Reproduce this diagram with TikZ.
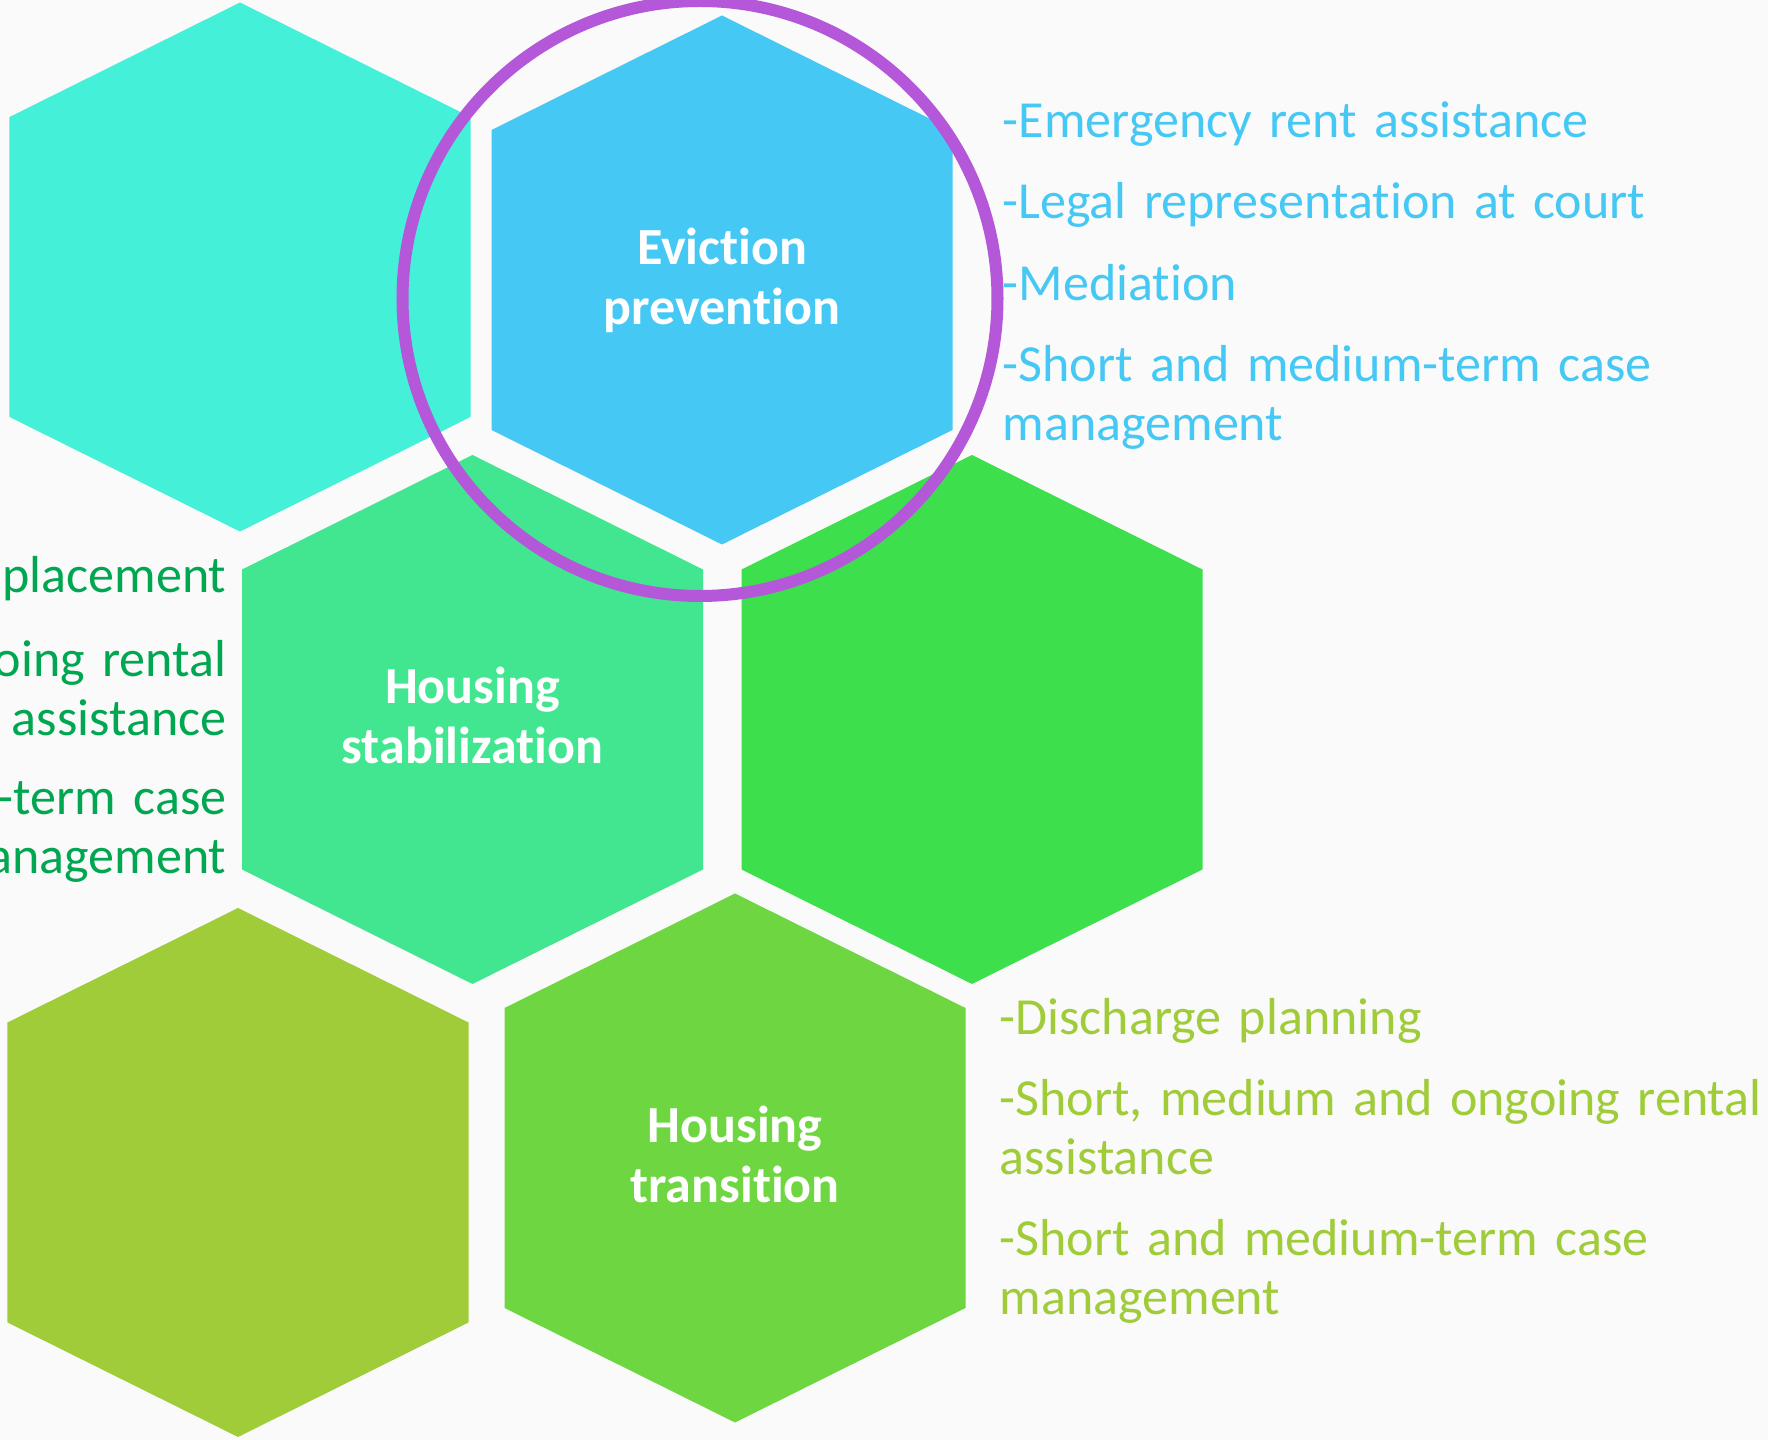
\documentclass[tikz,border=0pt]{standalone}
\usepackage{fontspec}
\setmainfont{Carlito}[Ligatures={NoCommon,NoDiscretionary,NoContextual}]
\usepackage{tikz}
\usetikzlibrary{calc}
\definecolor{bgcol}{HTML}{FAFAFA}
\definecolor{hexteal}{HTML}{44F0D8}
\definecolor{hexblue}{HTML}{46C8F5}
\definecolor{hexmint}{HTML}{42E690}
\definecolor{hexgreen}{HTML}{3DE04C}
\definecolor{hexolive}{HTML}{A0CC3A}
\definecolor{hexlime}{HTML}{6ED640}
\definecolor{stabtext}{HTML}{00A650}
\definecolor{ringcol}{HTML}{B457D9}
\tikzstyle{hexagon} = [insert path={++(0,-264.5) -- ++(230.5,114.5) -- ++(0,300) -- ++(-230.5,114.5) -- ++(-230.5,-114.5) -- ++(0,-300) -- cycle}]
\tikzstyle{title} = [text=white, font=\fontsize{14.8}{17}\selectfont\bfseries, text width=4.4cm, align=center, inner sep=0pt, anchor=base]
\tikzstyle{list} = [font=\fontsize{14.8}{16.5}\selectfont, text width=8cm, align=left, inner sep=0pt, anchor=base west]
\tikzstyle{leftlist} = [font=\fontsize{14.8}{16.5}\selectfont, text width=3cm, align=right, inner sep=0pt, anchor=base east, text=stabtext]
\tikzstyle{ring} = [draw=ringcol, line width=0.12cm]

\begin{document}
\begin{tikzpicture}[x=0.01cm, y=-0.01cm]
        \useasboundingbox (0,0) rectangle (1768,1440);
        \fill[bgcol] (0,0) rectangle (1768,1440);
        % hexagon centres
        \coordinate (h1) at (240,267);
        \coordinate (h2) at (722,280);
        \coordinate (h3) at (472.5,719.5);
        \coordinate (h4) at (972,719.5);
        \coordinate (h5) at (238,1172.5);
        \coordinate (h6) at (735,1158);
        \fill[hexteal] (h1) [hexagon];
        \fill[hexblue] (h2) [hexagon];
        \fill[hexmint] (h3) [hexagon];
        \fill[hexgreen] (h4) [hexagon];
        \fill[hexolive] (h5) [hexagon];
        \fill[hexlime] (h6) [hexagon];
        % titles
        \node[title] (evict) at (722,265) {Eviction\\prevention};
        \node[title] (stab) at (472.5,704) {Housing\\stabilization};
        \node[title] (trans) at (735,1142.5) {Housing\\transition};
        % eviction prevention
        \node[list, text=hexblue] (rent) at (1002,138) {-Emergency rent assistance};
        \node[list, text=hexblue] (legal) at (1002,219) {-Legal representation at court};
        \node[list, text=hexblue] (mediation) at (1002,301) {-Mediation};
        \node[list, text=hexblue] (evictcase) at (1002,382) {-Short and medium-term case\\management};
        % housing stabilization
        \node[leftlist] (placement) at (227,593) {placement};
        \node[leftlist] (stabrent) at (227,677) {oing rental\\assistance};
        \node[leftlist] (stabcase) at (227,815) {-term case\\anagement};
        % housing transition
        \node[list, text=hexolive] (discharge) at (999,1035) {-Discharge planning};
        \node[list, text=hexolive] (transrent) at (999,1116) {-Short, medium and ongoing rental\\assistance};
        \node[list, text=hexolive] (transcase) at (999,1256) {-Short and medium-term case\\management};
        % focus ring
        \coordinate (focus) at (700,298.5);
        \draw[ring] (focus) circle (297.5);
\end{tikzpicture}
\end{document}
